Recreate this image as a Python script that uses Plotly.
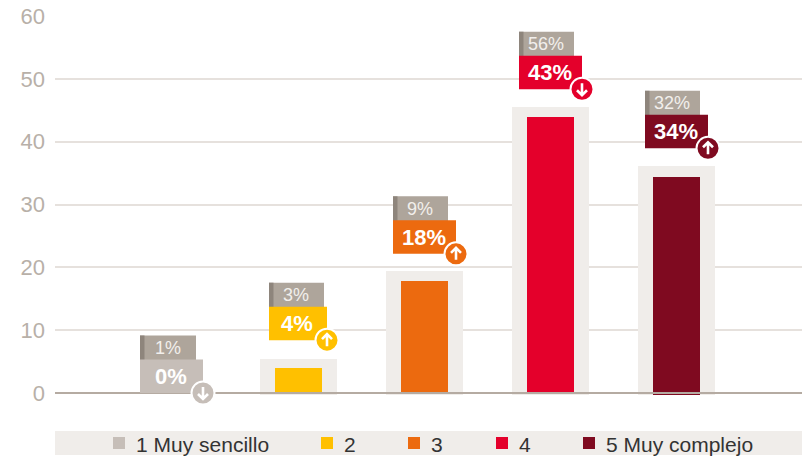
import plotly.graph_objects as go

categories = ["1 Muy sencillo", "2", "3", "4", "5 Muy complejo"]
bar_values = [0, 4, 17.9, 43.9, 34.3]
bar_bases = [0, 0, 0, 0, -0.35]
backdrop_values = [0, 5.7, 19.6, 45.8, 36.4]
previous_pct = [1, 3, 9, 56, 32]
current_pct = [0, 4, 18, 43, 34]
y_ticks = [0, 10, 20, 30, 40, 50, 60]

colors = ["#C6BEB8", "#FFC000", "#EC6A0F", "#E4002B", "#7F0A20"]
BACK = "#F0EDEA"
GRID = "#E6E1DD"
AXIS = "#B5ABA2"
PREV = "#AEA59B"
STRIPE = "#8E857C"
FONT = "Liberation Sans"

W, H = 802, 461
L, T = 55, 16
CENTER0, STEP = 172.5, 126
PX_PER_UNIT = (393 - 16) / 60

xs = list(range(len(categories)))
fig = go.Figure()
fig.add_trace(go.Bar(x=xs, y=backdrop_values, base=-0.25, width=77 / STEP,
                     marker=dict(color=BACK, line_width=0), showlegend=False, hoverinfo="skip"))
fig.add_trace(go.Bar(x=xs, y=[v - b for v, b in zip(bar_values, bar_bases)], base=bar_bases,
                     width=47 / STEP,
                     marker=dict(color=colors, line_width=0), showlegend=False,
                     hovertext=categories, hoverinfo="text"))
shapes = [dict(type="line", xref="x domain", x0=0, x1=1, yref="y", y0=0, y1=0,
               line=dict(color=AXIS, width=2), layer="above")]
annotations = []

def pixel_rect(i, anchor, x0, x1, y0, y1, color):
    return dict(type="rect", xref="x", yref="y", xsizemode="pixel", ysizemode="pixel",
                xanchor=i, yanchor=anchor, x0=x0, x1=x1, y0=y0, y1=y1,
                fillcolor=color, line_width=0, layer="above")

lift = [0, 17, 16, 16, 16]            # gap above the backdrop, px
box_left = [-32.5, -29.5, -31.5, -31.5, -31.5]
box_width = [63, 58, 63, 63, 63]
prev_width = [56, 55, 55, 55, 55]

for i in xs:
    a = backdrop_values[i]
    b0 = lift[i]
    left = box_left[i]
    w = box_width[i]
    # previous-year tag
    shapes.append(pixel_rect(i, a, left, left + prev_width[i], b0 + 32.5, b0 + 57.5, PREV))
    shapes.append(pixel_rect(i, a, left, left + 4.5, b0 + 32.5, b0 + 57.5, STRIPE))
    # current tag
    shapes.append(pixel_rect(i, a, left, left + w, b0, b0 + 33.5, colors[i]))
    # badge
    cx, cy = left + w, b0
    shapes.append(dict(type="circle", xref="x", yref="y", xsizemode="pixel", ysizemode="pixel",
                       xanchor=i, yanchor=a, x0=cx - 11.5, x1=cx + 11.5, y0=cy - 11.5, y1=cy + 11.5,
                       fillcolor=colors[i], line=dict(color="white", width=2), layer="above"))
    s = 1 if current_pct[i] > previous_pct[i] else -1
    path = (f"M{cx},{cy - 6 * s} L{cx},{cy + 6 * s} "
            f"M{cx - 5},{cy + 1 * s} L{cx},{cy + 6 * s} L{cx + 5},{cy + 1 * s}")
    shapes.append(dict(type="path", xref="x", yref="y", xsizemode="pixel", ysizemode="pixel",
                       xanchor=i, yanchor=a, path=path, fillcolor="rgba(0,0,0,0)",
                       line=dict(color="white", width=2.6), layer="above"))
    annotations.append(dict(x=i, y=a, xref="x", yref="y", showarrow=False,
                            text=f"{previous_pct[i]}%", xanchor="center", yanchor="middle",
                            xshift=left + prev_width[i] / 2 - 0.5, yshift=b0 + 45,
                            font=dict(family=FONT, size=18, color="#F2EFEC")))
    annotations.append(dict(x=i, y=a, xref="x", yref="y", showarrow=False,
                            text=f"<b>{current_pct[i]}%</b>", xanchor="center", yanchor="middle",
                            xshift=left + w / 2 - 1, yshift=b0 + 16.5,
                            font=dict(family=FONT, size=22, color="white")))

# legend band, swatches and labels
H_PLOT = H - T
def py(pixel_y):
    return (H - pixel_y) / H_PLOT
def px(pixel_x):
    return (pixel_x - L) / (W - L)

shapes.append(dict(type="rect", xref="paper", yref="paper", x0=0, x1=1, y0=py(455), y1=py(431),
                   fillcolor=BACK, line_width=0, layer="below"))
legend_x = [113, 321, 408, 496, 583]
for name, color, lx in zip(categories, colors, legend_x):
    shapes.append(dict(type="rect", xref="paper", yref="paper", x0=px(lx), x1=px(lx + 12),
                       y0=py(449), y1=py(437), fillcolor=color, line_width=0, layer="above"))
    annotations.append(dict(xref="paper", yref="paper", x=px(lx + 22.5), y=py(444), showarrow=False,
                            text=name, xanchor="left", yanchor="middle", xshift=-2,
                            font=dict(family=FONT, size=21, color="#333333")))

fig.update_layout(
    width=W, height=H, autosize=False, barmode="overlay", bargap=0,
    margin=dict(l=L, r=0, t=T, b=0, pad=0),
    plot_bgcolor="white", paper_bgcolor="white", showlegend=False,
    shapes=shapes, annotations=annotations,
    xaxis=dict(range=[(L - CENTER0) / STEP, (W - CENTER0) / STEP], showgrid=False, zeroline=False,
               showticklabels=False, ticks="", showline=False),
    yaxis=dict(range=[-(H_PLOT / PX_PER_UNIT - 60), 60], tickvals=y_ticks, showgrid=True,
               gridcolor=GRID, gridwidth=2, zeroline=False, showline=False, ticks="",
               ticklabelstandoff=9,
               tickfont=dict(family=FONT, size=22, color="#B8B0A8")),
)
fig.write_html("out.html", config=dict(displayModeBar=False),
               post_script="document.body.style.margin='0';")
